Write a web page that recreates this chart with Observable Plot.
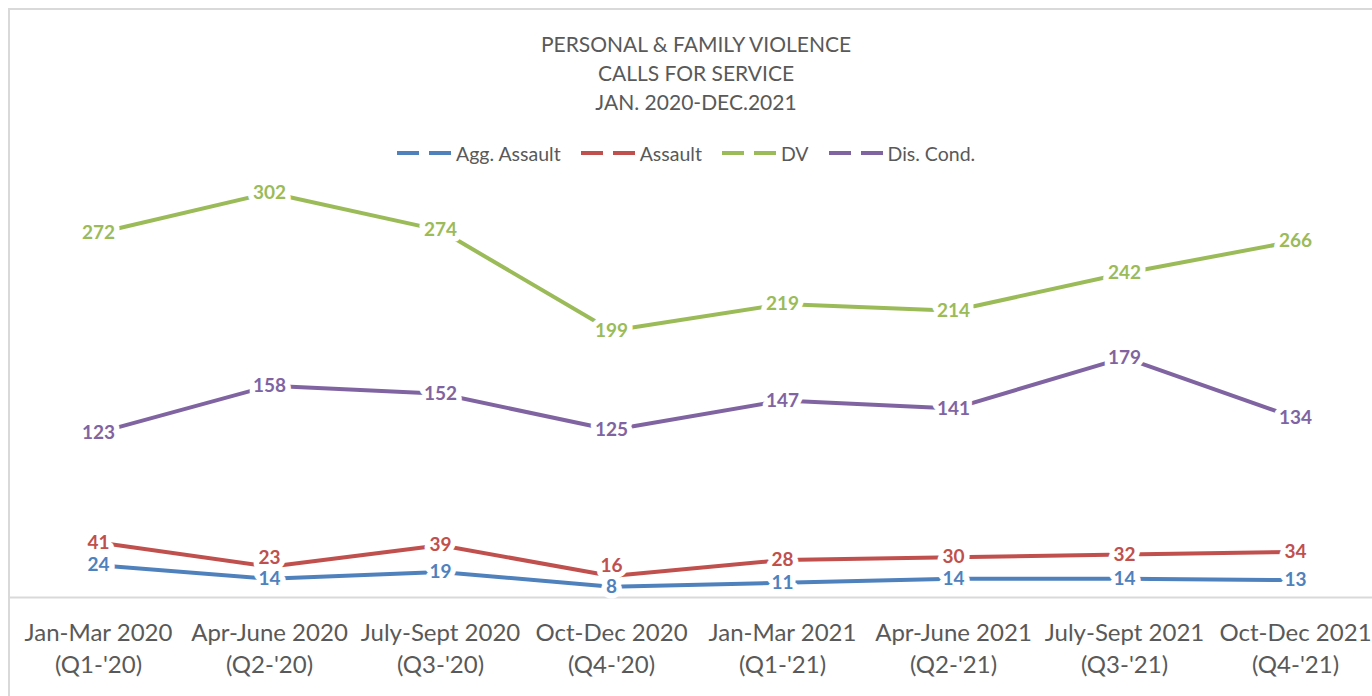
<!DOCTYPE html>
<html><head><meta charset="utf-8">
<script src="https://cdn.jsdelivr.net/npm/d3@7"></script>
<script src="https://cdn.jsdelivr.net/npm/@observablehq/plot@0.6"></script>
<style>
body{margin:0;background:#fff;font-family:Lato,sans-serif;}
#wrap{position:relative;width:1372px;height:696px;overflow:hidden;}
#frame{position:absolute;left:8px;top:8px;width:1420px;height:740px;border:2px solid #d9d9d9;box-sizing:border-box;}
#chart{position:absolute;left:0;top:0;}
#title{position:absolute;left:0;width:1392px;top:29px;text-align:center;color:#595959;font-size:21px;line-height:29px;}
#legend{position:absolute;left:397px;top:141px;display:flex;align-items:center;color:#595959;font-size:19.5px;height:24px;}
.item{display:flex;align-items:center;margin-right:20px;}
.item svg{margin-right:5px;}
</style></head>
<body>
<div id="wrap">
<div id="frame"></div>
<div id="chart"></div>
<div id="title">PERSONAL &amp; FAMILY VIOLENCE<br>CALLS FOR SERVICE<br>JAN. 2020-DEC.2021</div>
<div id="legend"></div>
</div>
<script>
const categories = ["Jan-Mar 2020","Apr-June 2020","July-Sept 2020","Oct-Dec 2020","Jan-Mar 2021","Apr-June 2021","July-Sept 2021","Oct-Dec 2021"];
const quarters = ["(Q1-'20)","(Q2-'20)","(Q3-'20)","(Q4-'20)","(Q1-'21)","(Q2-'21)","(Q3-'21)","(Q4-'21)"];
const seriesNames = ["Agg. Assault","Assault","DV","Dis. Cond."];
const seriesColors = ["#4F81BD","#C0504D","#9BBB59","#8064A2"];
const aggAssault = [24,14,19,8,11,14,14,13];
const assault = [41,23,39,16,28,30,32,34];
const dv = [272,302,274,199,219,214,242,266];
const disCond = [123,158,152,125,147,141,179,134];

const seriesValues = [aggAssault, assault, dv, disCond];
const data = [];
seriesNames.forEach((s, si) => seriesValues[si].forEach((v, i) => data.push({series: s, cat: categories[i], value: v, idx: i})));
const quarterOf = Object.fromEntries(categories.map((c, i) => [c, quarters[i]]));

const H = 696, mTop = 128, mBottom = 99, yMax = 350;
const pxPerUnit = (H - mTop - mBottom) / yMax;
const minSep = 21; // px between Assault and Agg. Assault labels
// label anchor: same as the point, except the Assault label is lifted when it would collide with the Agg. Assault label
data.forEach(d => {
  d.labelY = d.value;
  if (d.series === "Assault") {
    const gap = (d.value - aggAssault[d.idx]) * pxPerUnit;
    if (gap < minSep) d.labelY = aggAssault[d.idx] + minSep / pxPerUnit;
  }
});

const chart = Plot.plot({
  width: 1372, height: H,
  marginTop: mTop, marginBottom: mBottom, marginLeft: 10, marginRight: 0,
  style: {fontFamily: "Lato, sans-serif", color: "#595959", background: "transparent"},
  x: {type: "point", domain: categories, range: [12, 1380], padding: 0.5, axis: null},
  y: {domain: [0, yMax], axis: null},
  color: {domain: seriesNames, range: seriesColors},
  marks: [
    Plot.ruleY([0], {stroke: "#d9d9d9", strokeWidth: 2}),
    Plot.line(data, {x: "cat", y: "value", z: "series", stroke: "series", strokeWidth: 4}),
    Plot.text(data, {x: "cat", y: "labelY", text: "value", fill: "series", stroke: "white", strokeWidth: 11, fontWeight: "bold", fontSize: 19}),
    Plot.axisX({tickSize: 0, tickPadding: 20, fontSize: 24, lineHeight: 1.36, label: null, tickFormat: d => d + "\n" + quarterOf[d]})
  ]
});
document.getElementById("chart").appendChild(chart);

const legend = document.getElementById("legend");
seriesNames.forEach((s, i) => {
  const item = document.createElement("div");
  item.className = "item";
  item.innerHTML = `<svg width="54" height="8"><line x1="0" y1="4" x2="54" y2="4" stroke="${seriesColors[i]}" stroke-width="4" stroke-dasharray="22 10"/></svg><span>${s}</span>`;
  legend.appendChild(item);
});
</script>
</body></html>
